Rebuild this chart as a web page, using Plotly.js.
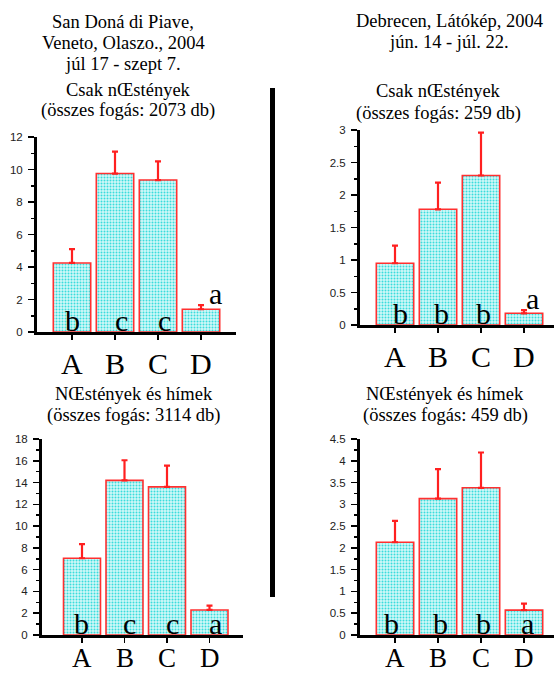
<!DOCTYPE html>
<html><head><meta charset="utf-8">
<script src="https://cdn.plot.ly/plotly-3.0.1.min.js"></script>
<style>body{margin:0;background:#fff}#chart{width:554px;height:676px}</style>
</head><body><div id="chart"></div>
<script>
// ---- data ----
const categories = ['A', 'B', 'C', 'D'];

const tlMeans = [4.25, 9.75, 9.35, 1.4];
const tlErr = [0.85, 1.35, 1.15, 0.25];
const tlLetters = ['b', 'c', 'c', 'a'];

const trMeans = [0.95, 1.78, 2.3, 0.18];
const trErr = [0.27, 0.41, 0.66, 0.05];
const trLetters = ['b', 'b', 'b', 'a'];

const blMeans = [7.05, 14.2, 13.6, 2.3];
const blErr = [1.3, 1.85, 1.95, 0.4];
const blLetters = ['b', 'c', 'c', 'a'];

const brMeans = [2.13, 3.13, 3.38, 0.57];
const brErr = [0.49, 0.68, 0.81, 0.15];
const brLetters = ['b', 'b', 'b', 'a'];

const leftTitleLines = ['San Doná di Piave,', 'Veneto, Olaszo., 2004', 'júl 17 - szept 7.'];
const rightTitleLines = ['Debrecen, Látókép, 2004', 'jún. 14 - júl. 22.'];
const tlSub = ['Csak nŒstények', '(összes fogás: 2073 db)'];
const trSub = ['Csak nŒstények', '(összes fogás: 259 db)'];
const blSub = ['NŒstények és hímek', '(összes fogás: 3114 db)'];
const brSub = ['NŒstények és hímek', '(összes fogás: 459 db)'];

// ---- layout helpers ----
const W = 554, H = 676;
const px = x => x / W;
const py = y => 1 - y / H;
const SERIF = 'Liberation Serif, Times New Roman, serif';
const SANS = 'Liberation Sans, Arial, sans-serif';

const panels = [
  {means: tlMeans, err: tlErr, letters: tlLetters, ax: '', x0: 37, x1: 236, c0: 72, step: 43, y0: 332, y1: 137, ymax: 12, dtick: 2, minor: 1,
   dx: [0.02, 0.16, 0.14, 0.33], above: [false, false, false, true], labOff: 31, labSize: 30},
  {means: trMeans, err: trErr, letters: trLetters, ax: '2', x0: 360, x1: 554, c0: 395, step: 43, y0: 325, y1: 130, ymax: 3, dtick: 0.5, minor: 0.25,
   dx: [0.12, 0.07, 0.05, 0.19], above: [false, false, false, true], labOff: 31, labSize: 30},
  {means: blMeans, err: blErr, letters: blLetters, ax: '3', x0: 42, x1: 243, c0: 82, step: 42.5, y0: 635, y1: 439, ymax: 18, dtick: 2, minor: 1,
   dx: [-0.02, 0.12, 0.12, 0.14], above: [false, false, false, false], labOff: 23, labSize: 27},
  {means: brMeans, err: brErr, letters: brLetters, ax: '4', x0: 360, x1: 554, c0: 395, step: 43, y0: 635, y1: 439, ymax: 4.5, dtick: 0.5, minor: 0.25,
   dx: [-0.07, 0.05, 0.05, 0.07], above: [false, false, false, false], labOff: 23, labSize: 27}
];

const traces = [];
const layout = {
  width: W, height: H, margin: {l: 0, r: 0, t: 0, b: 0},
  paper_bgcolor: '#fff', plot_bgcolor: 'rgba(0,0,0,0)',
  showlegend: false, bargap: 0.13,
  annotations: [], shapes: []
};

panels.forEach(p => {
  const xa = 'x' + p.ax, ya = 'y' + p.ax;
  traces.push({
    type: 'bar', x: categories, y: p.means, xaxis: xa, yaxis: ya,
    marker: {
      color: '#d2f9f9',
      line: {color: '#ff3030', width: 1.6},
      pattern: {shape: '.', fgcolor: '#3adcdc', bgcolor: '#d2f9f9', size: 3, solidity: 0.35}
    },
    error_y: {type: 'data', symmetric: false, array: p.err, arrayminus: p.err.map(() => 0),
      color: '#ff2020', thickness: 2.2, width: 3},
    hoverinfo: 'skip'
  });
  const xaxKey = 'xaxis' + p.ax, yaxKey = 'yaxis' + p.ax;
  layout[xaxKey] = {
    domain: [px(p.x0), px(p.x1)], anchor: ya,
    type: 'category', categoryorder: 'array', categoryarray: categories,
    range: [(p.x0 - p.c0) / p.step, (p.x1 - p.c0) / p.step],
    showline: true, linecolor: '#000', linewidth: 3,
    ticks: 'outside', ticklen: 5, tickwidth: 1.5, tickcolor: '#000',
    showticklabels: false,
    showgrid: false, zeroline: false, fixedrange: true
  };
  layout[yaxKey] = {
    domain: [py(p.y0), py(p.y1)], anchor: xa,
    range: [0, p.ymax], dtick: p.dtick, tick0: 0,
    showline: true, linecolor: '#000', linewidth: 3,
    ticks: 'outside', ticklen: 6, tickwidth: 1.5, tickcolor: '#000',
    minor: {ticks: 'outside', ticklen: 3, tickwidth: 1.5, tickcolor: '#000', dtick: p.minor, showgrid: false},
    tickfont: {family: SANS, size: 11.5, color: '#222'},
    ticklabelstandoff: 3,
    showgrid: false, zeroline: false, fixedrange: true
  };
  // category labels below the axis
  categories.forEach(c => layout.annotations.push({
    xref: xa, yref: 'paper', x: c, y: py(p.y0 + p.labOff), xanchor: 'center', yanchor: 'middle',
    text: c, showarrow: false, borderpad: 0, font: {family: SERIF, size: p.labSize, color: '#000'}
  }));
  p.letters.forEach((L, i) => {
    const above = p.above[i];
    layout.annotations.push({
      xref: xa, yref: ya, x: i + p.dx[i], y: above ? p.means[i] + p.err[i] : 0,
      xanchor: 'center', yanchor: 'bottom', yshift: -7,
      text: L, showarrow: false, font: {family: SERIF, size: 30, color: '#000'}
    });
  });
});

function addLines(lines, cx, ys) {
  lines.forEach((t, i) => layout.annotations.push({
    xref: 'paper', yref: 'paper', x: px(cx), y: py(ys[i]), xanchor: 'center', yanchor: 'middle',
    text: t, showarrow: false, font: {family: SERIF, size: 18.5, color: '#000'}
  }));
}
addLines(leftTitleLines, 123, [22, 43, 64]);
addLines(rightTitleLines, 449, [21, 42]);
addLines(tlSub, 128, [90, 110]);
addLines(trSub, 438, [91, 113]);
addLines(blSub, 134, [394, 415]);
addLines(brSub, 445, [394, 415]);

layout.shapes.push({type: 'rect', xref: 'paper', yref: 'paper',
  x0: px(270), x1: px(275), y0: py(597), y1: py(88), fillcolor: '#000', line: {width: 0}});

Plotly.newPlot('chart', traces, layout, {staticPlot: true, displayModeBar: false});
</script>
</body></html>
